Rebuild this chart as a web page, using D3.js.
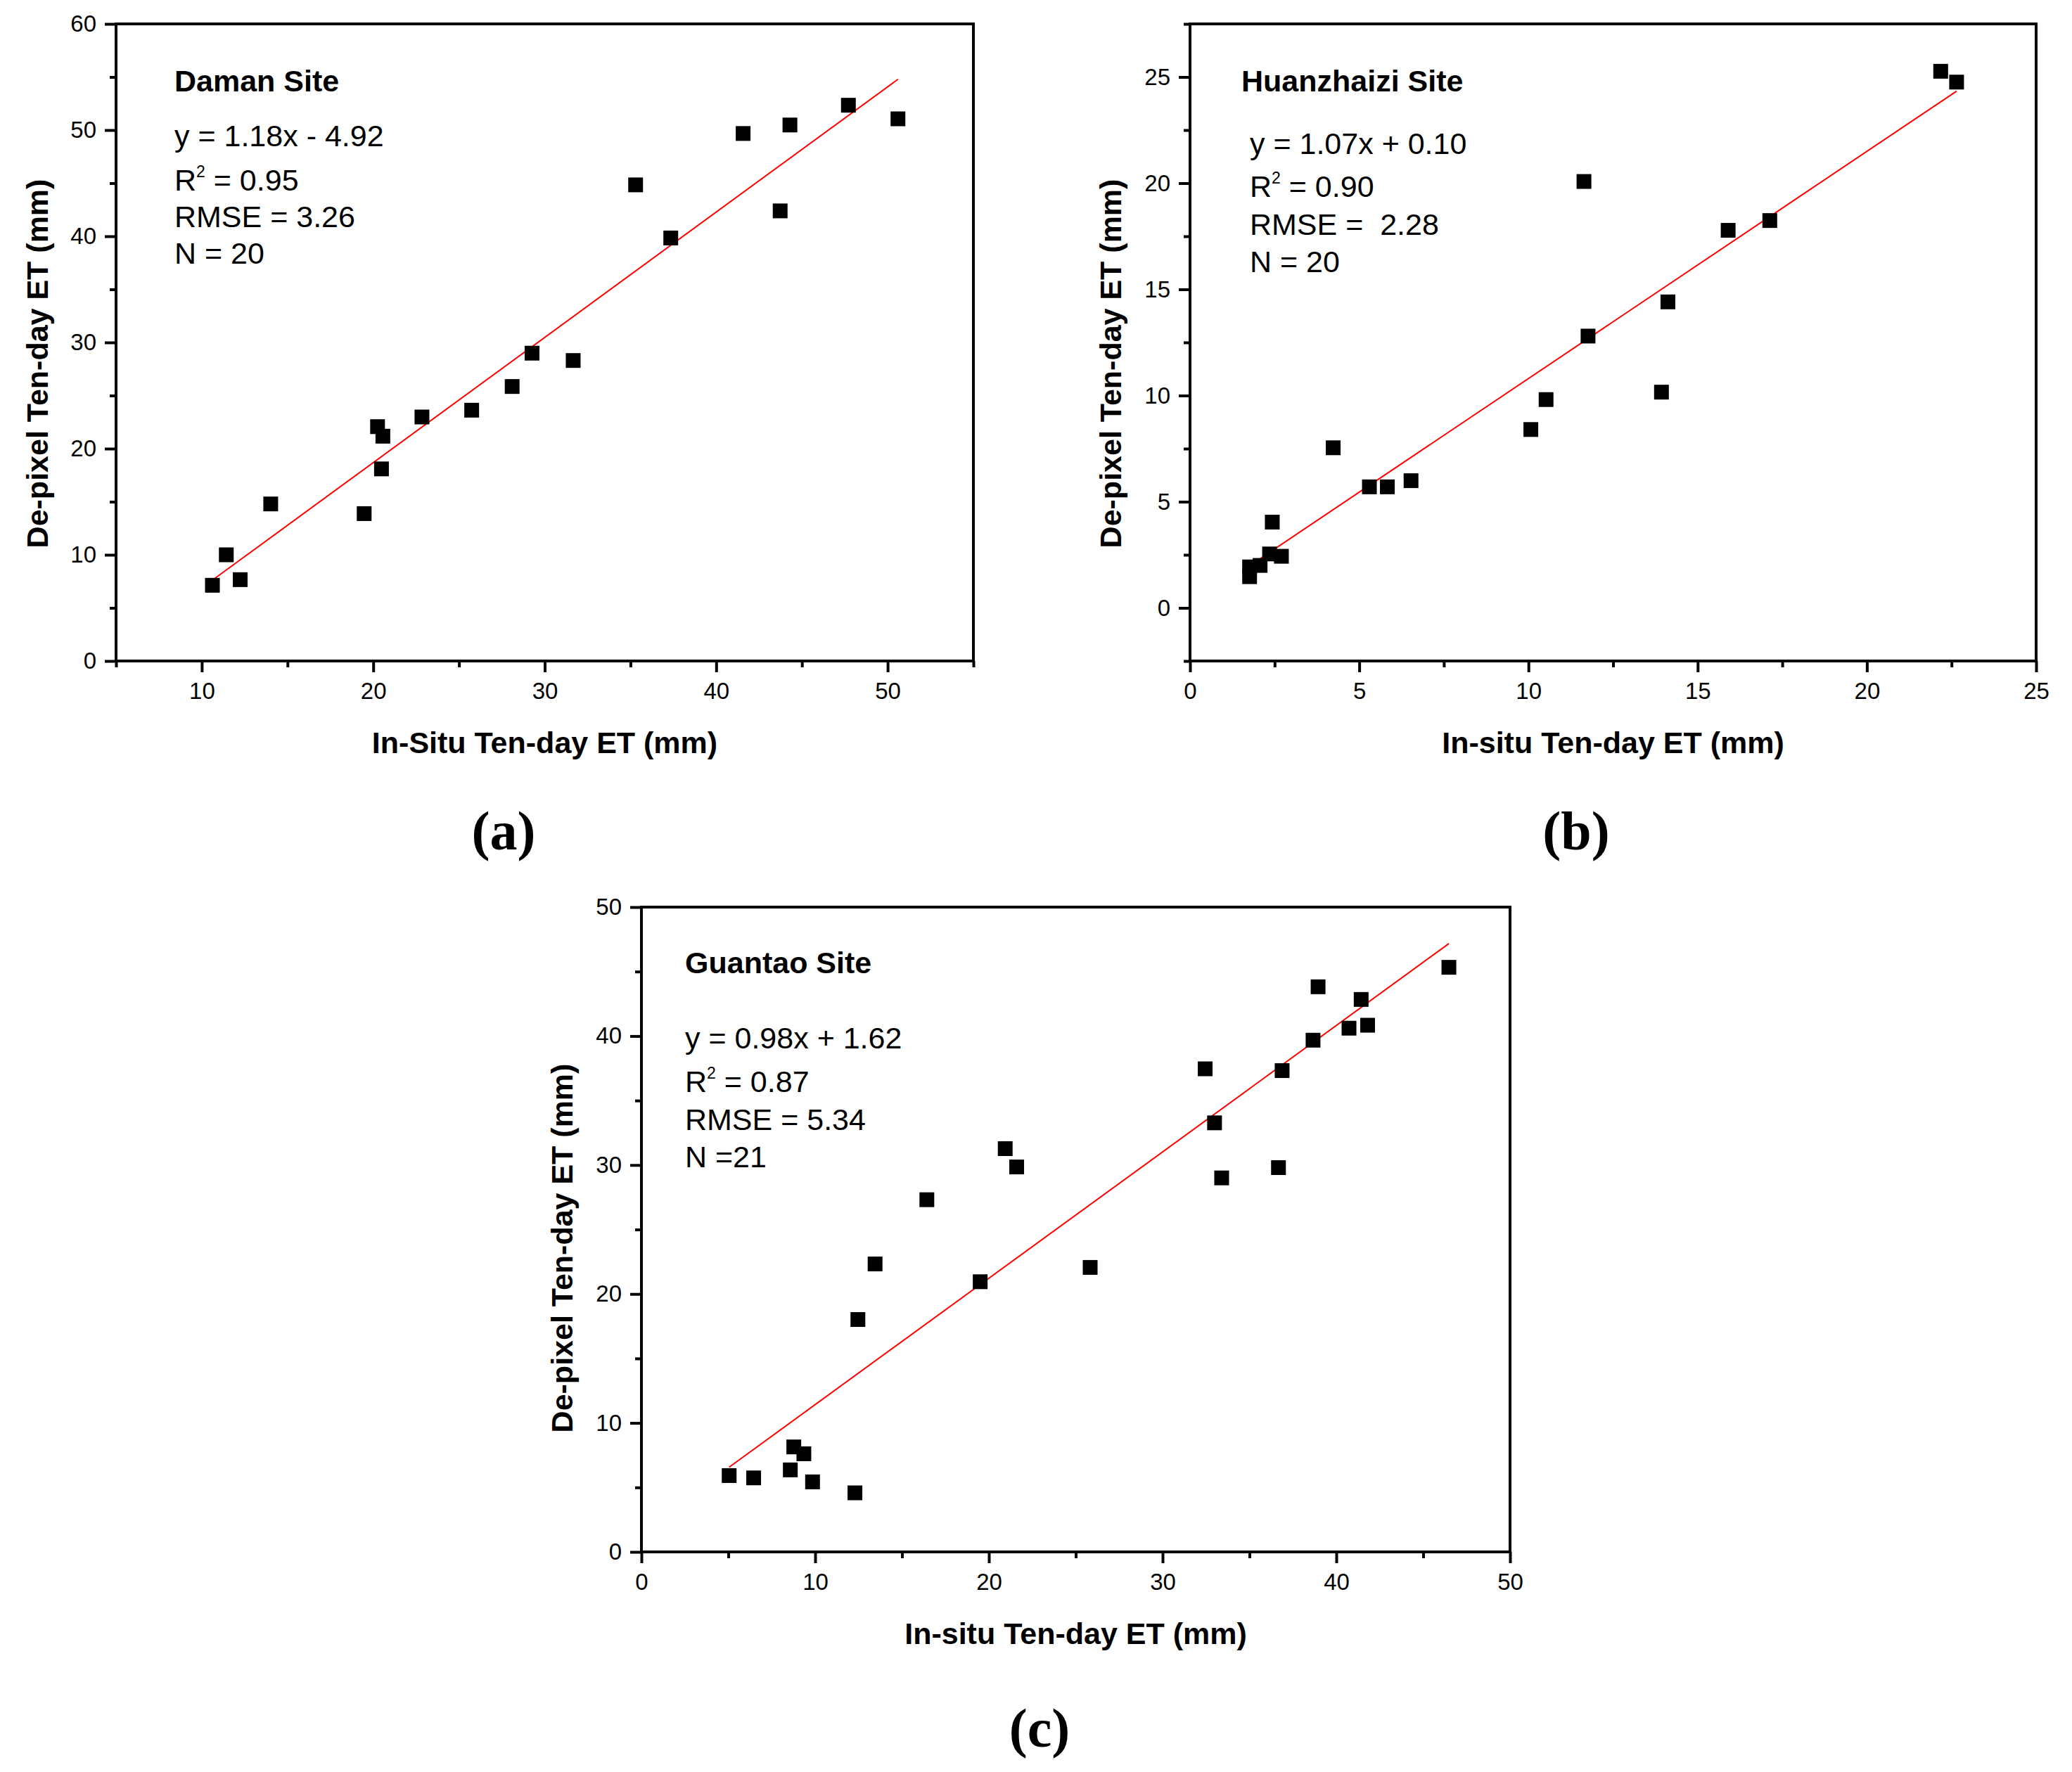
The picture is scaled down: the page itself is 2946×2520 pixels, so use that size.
<!DOCTYPE html>
<html>
<head>
<meta charset="utf-8">
<script src="https://cdn.jsdelivr.net/npm/d3@7"></script>
<style>
  body { margin: 0; background: #fff; }
  svg text { font-family: "Liberation Sans", Arial, sans-serif; fill: #000; white-space: pre; }
</style>
</head>
<body>
<svg id="chart" width="2946" height="2520"></svg>
<script>
// Daman site (a)
const damanX = [10.62, 11.43, 12.24, 14.02, 19.47, 20.25, 20.56, 20.48, 22.84, 25.74,
                28.1, 29.26, 31.66, 35.3, 37.35, 41.57, 43.73, 44.3, 47.71, 50.6];
const damanY = [7.13, 10.0, 7.66, 14.79, 13.88, 22.07, 21.17, 18.09, 22.98, 23.62,
                25.85, 28.99, 28.3, 44.84, 39.84, 49.68, 42.39, 50.48, 52.34, 51.06];

// Huanzhaizi site (b)
const huanX = [1.76, 1.76, 2.07, 2.35, 2.43, 2.7, 4.23, 5.3, 5.83, 6.53,
               10.07, 10.52, 11.64, 11.76, 13.93, 14.12, 15.9, 17.13, 22.18, 22.65];
const huanY = [1.47, 1.93, 2.0, 2.54, 4.04, 2.43, 7.54, 5.7, 5.7, 5.99,
               8.4, 9.81, 20.08, 12.8, 10.16, 14.41, 17.78, 18.24, 25.27, 24.76];

// Guantao site (c)
const guanX = [5.05, 6.46, 8.57, 8.77, 9.35, 9.85, 12.29, 12.46, 13.45, 16.43, 19.5, 20.94, 21.6,
               25.83, 32.45, 32.99, 33.4, 36.67, 36.88, 38.66, 38.95, 40.73, 41.43, 41.8, 46.48];
const guanY = [5.92, 5.74, 6.36, 8.14, 7.61, 5.43, 4.58, 18.02, 22.33, 27.31, 20.95, 31.27, 29.85,
               22.06, 37.46, 33.27, 29.0, 29.8, 37.32, 39.68, 43.82, 40.61, 42.84, 40.84, 45.33];

// fit lines (slope, intercept) as printed on the chart
const damanFit = [1.18, -4.92];
const huanFit = [1.07, 0.10];
const guanFit = [0.98, 1.62];

const damanStats = ["y = 1.18x - 4.92", "0.95", "RMSE = 3.26", "N = 20"];
const huanStats = ["y = 1.07x + 0.10", "0.90", "RMSE =  2.28", "N = 20"];
const guanStats = ["y = 0.98x + 1.62", "0.87", "RMSE = 5.34", "N =21"];

const xTitle = ["In-Situ Ten-day ET (mm)", "In-situ Ten-day ET (mm)", "In-situ Ten-day ET (mm)"];
const yTitle = "De-pixel Ten-day ET (mm)";

const panels = [
  {
    name: "Daman Site", tag: "(a)", xs: damanX, ys: damanY, fit: damanFit, stats: damanStats, xt: xTitle[0],
    left: 165, right: 1384, top: 34, bottom: 940,
    xDomain: [5, 55], yDomain: [0, 60],
    xMajor: [10, 20, 30, 40, 50], xMinor: [5, 15, 25, 35, 45, 55],
    yMajor: [0, 10, 20, 30, 40, 50, 60], yMinor: [5, 15, 25, 35, 45, 55],
    textX: 248, titleY: 130, lineY: [208, 271, 323, 375],
    yTitleX: 68, yTitleY: 517, tagX: 716, tagY: 1208
  },
  {
    name: "Huanzhaizi Site", tag: "(b)", xs: huanX, ys: huanY, fit: huanFit, stats: huanStats, xt: xTitle[1],
    left: 1692, right: 2895, top: 34, bottom: 940,
    xDomain: [0, 25], yDomain: [-2.5, 27.5],
    xMajor: [0, 5, 10, 15, 20, 25], xMinor: [2.5, 7.5, 12.5, 17.5, 22.5],
    yMajor: [0, 5, 10, 15, 20, 25], yMinor: [-2.5, 2.5, 7.5, 12.5, 17.5, 22.5, 27.5],
    textX: 1765, titleY: 130, lineY: [219, 280, 334, 387], eqX: 1777,
    yTitleX: 1594, yTitleY: 517, tagX: 2241, tagY: 1208
  },
  {
    name: "Guantao Site", tag: "(c)", xs: guanX, ys: guanY, fit: guanFit, stats: guanStats, xt: xTitle[2],
    left: 912, right: 2147, top: 1290, bottom: 2207,
    xDomain: [0, 50], yDomain: [0, 50],
    xMajor: [0, 10, 20, 30, 40, 50], xMinor: [5, 15, 25, 35, 45],
    yMajor: [0, 10, 20, 30, 40, 50], yMinor: [5, 15, 25, 35, 45],
    textX: 974, titleY: 1384, lineY: [1491, 1553, 1607, 1660],
    yTitleX: 814, yTitleY: 1775, tagX: 1478, tagY: 2484
  }
];

const svg = d3.select("#chart");
const majorLen = 16, minorLen = 9, sq = 21;

function drawPanel(p) {
  const g = svg.append("g");
  const x = d3.scaleLinear().domain(p.xDomain).range([p.left, p.right]);
  const y = d3.scaleLinear().domain(p.yDomain).range([p.bottom, p.top]);

  // frame
  g.append("rect")
    .attr("x", p.left).attr("y", p.top)
    .attr("width", p.right - p.left).attr("height", p.bottom - p.top)
    .attr("fill", "none").attr("stroke", "#000").attr("stroke-width", 4);

  // x axis, major + minor ticks
  g.append("g").attr("transform", `translate(0,${p.bottom})`)
    .call(d3.axisBottom(x).tickValues(p.xMajor).tickSize(majorLen).tickPadding(15).tickFormat(d3.format("d")));
  g.append("g").attr("transform", `translate(0,${p.bottom})`)
    .call(d3.axisBottom(x).tickValues(p.xMinor).tickSize(minorLen).tickFormat(""));

  g.append("g").attr("transform", `translate(${p.left},0)`)
    .call(d3.axisLeft(y).tickValues(p.yMajor).tickSize(majorLen).tickPadding(12).tickFormat(d3.format("d")));
  g.append("g").attr("transform", `translate(${p.left},0)`)
    .call(d3.axisLeft(y).tickValues(p.yMinor).tickSize(minorLen).tickFormat(""));

  g.selectAll(".domain").remove();
  g.selectAll(".tick line").attr("stroke", "#000").attr("stroke-width", 4);
  g.selectAll(".tick text").attr("font-size", 33).attr("font-family", "Liberation Sans, Arial, sans-serif");

  // regression line, across the data range
  const [m, b] = p.fit;
  const x0 = d3.min(p.xs), x1 = d3.max(p.xs);
  g.append("line")
    .attr("x1", x(x0)).attr("y1", y(m * x0 + b))
    .attr("x2", x(x1)).attr("y2", y(m * x1 + b))
    .attr("stroke", "#ff0000").attr("stroke-width", 2);

  // points
  g.selectAll(".pt")
    .data(d3.zip(p.xs, p.ys))
    .enter()
    .append("rect")
    .attr("class", "pt")
    .attr("x", d => x(d[0]) - sq / 2)
    .attr("y", d => y(d[1]) - sq / 2)
    .attr("width", sq).attr("height", sq)
    .attr("fill", "#000");

  // site name and stats
  g.append("text").attr("x", p.textX).attr("y", p.titleY)
    .attr("font-size", 43).attr("font-weight", "bold").text(p.name);

  const ex = p.eqX || p.textX;
  g.append("text").attr("x", ex).attr("y", p.lineY[0]).attr("font-size", 43).text(p.stats[0]);
  const r2 = g.append("text").attr("x", ex).attr("y", p.lineY[1]).attr("font-size", 43);
  r2.append("tspan").text("R");
  r2.append("tspan").attr("font-size", 23).attr("dy", -19).text("2");
  r2.append("tspan").attr("dy", 19).text(" = " + p.stats[1]);
  g.append("text").attr("x", ex).attr("y", p.lineY[2]).attr("font-size", 43).text(p.stats[2]);
  g.append("text").attr("x", ex).attr("y", p.lineY[3]).attr("font-size", 43).text(p.stats[3]);

  // axis titles
  g.append("text")
    .attr("x", (p.left + p.right) / 2).attr("y", p.bottom + 131)
    .attr("text-anchor", "middle").attr("font-size", 43).attr("font-weight", "bold")
    .text(p.xt);
  g.append("text")
    .attr("transform", `translate(${p.yTitleX},${p.yTitleY}) rotate(-90)`)
    .attr("text-anchor", "middle").attr("font-size", 43).attr("font-weight", "bold")
    .text(yTitle);

  // panel tag
  g.append("text")
    .attr("x", p.tagX).attr("y", p.tagY)
    .attr("text-anchor", "middle")
    .style("font-family", "Liberation Serif, DejaVu Serif, serif")
    .attr("font-size", 78).attr("font-weight", "bold")
    .text(p.tag);
}

panels.forEach(drawPanel);
</script>
</body>
</html>
